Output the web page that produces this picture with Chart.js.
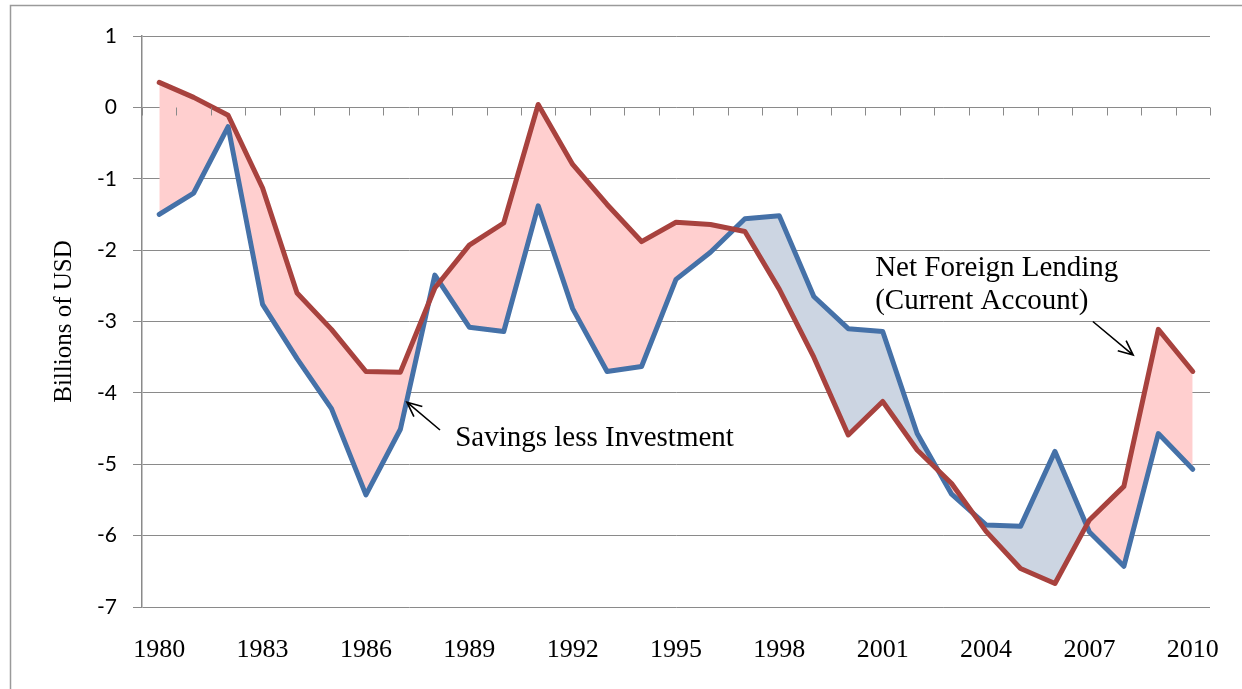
<!DOCTYPE html>
<html>
<head>
<meta charset="utf-8">
<title>Savings less Investment vs Net Foreign Lending</title>
<script src="https://cdn.jsdelivr.net/npm/chart.js@4/dist/chart.umd.min.js"></script>
<style>
    html, body { margin: 0; padding: 0; background: #fff; }
    #wrap { position: relative; width: 1242px; height: 689px; }
</style>
</head>
<body>
<div id="wrap"><canvas id="balanceChart"></canvas></div>
<script>
// Years on the category axis
const years = [1980, 1981, 1982, 1983, 1984, 1985, 1986, 1987, 1988, 1989,
               1990, 1991, 1992, 1993, 1994, 1995, 1996, 1997, 1998, 1999,
               2000, 2001, 2002, 2003, 2004, 2005, 2006, 2007, 2008, 2009, 2010];

// Net foreign lending (current account), billions of USD
const netForeignLending = [0.35, 0.14, -0.11, -1.13, -2.60, -3.11, -3.70, -3.71, -2.53, -1.93,
                           -1.62, 0.04, -0.80, -1.36, -1.88, -1.61, -1.64, -1.74, -2.55, -3.50,
                           -4.59, -4.12, -4.80, -5.27, -5.94, -6.46, -6.67, -5.78, -5.31, -3.11, -3.70];

// Savings less investment, billions of USD
const savingsLessInvestment = [-1.50, -1.20, -0.27, -2.76, -3.52, -4.22, -5.43, -4.51, -2.35, -3.08,
                               -3.14, -1.38, -2.82, -3.70, -3.63, -2.41, -2.03, -1.56, -1.52, -2.65,
                               -3.10, -3.14, -4.57, -5.42, -5.85, -5.87, -4.82, -5.95, -6.43, -4.57, -5.07];

// Only every third year gets a label
const labelEvery = 3;

// Y axis range
const yMin = -7;
const yMax = 1;

const gridColor = '#8a8a8a';

// Text callouts, positioned in data units (category index, value)
const callouts = [
    { lines: ['Savings less Investment'], at: [8.59, -4.64], arrowFrom: [8.15, -4.52], arrowTo: [7.19, -4.13] },
    { lines: ['Net Foreign Lending', '(Current Account)'], at: [20.78, -2.25], arrowFrom: [27.1, -3.0], arrowTo: [28.27, -3.47] }
];

// Draws the outer frame, the category tick marks on the zero line, and the callouts
const decorations = {
    id: 'decorations',
    beforeDraw(chart) {
        const ctx = chart.ctx;
        ctx.save();
        ctx.strokeStyle = '#9a9a9a';
        ctx.lineWidth = 1.5;
        ctx.beginPath();
        ctx.moveTo(10.5, chart.height);
        ctx.lineTo(10.5, 5.5);
        ctx.lineTo(chart.width, 5.5);
        ctx.stroke();
        ctx.restore();
    },
    afterDatasetsDraw(chart) {
        const ctx = chart.ctx;
        const x = chart.scales.x;
        const y = chart.scales.y;
        const zeroY = Math.round(y.getPixelForValue(0)) + 0.5;

        ctx.save();
        ctx.strokeStyle = gridColor;
        ctx.lineWidth = 1;
        ctx.beginPath();
        for (let i = 0; i <= years.length; i++) {
            const px = Math.round(x.getPixelForValue(i - 0.5)) + 0.5;
            ctx.moveTo(px, zeroY);
            ctx.lineTo(px, zeroY + 8);
        }
        ctx.stroke();
        ctx.restore();

        ctx.save();
        ctx.fillStyle = '#000';
        ctx.strokeStyle = '#000';
        ctx.font = '29px "Liberation Serif", "Times New Roman", serif';
        ctx.textBaseline = 'middle';
        ctx.textAlign = 'left';
        callouts.forEach(c => {
            const tx = x.getPixelForValue(c.at[0]);
            const ty = y.getPixelForValue(c.at[1]);
            c.lines.forEach((line, i) => ctx.fillText(line, tx, ty + i * 33));

            const x0 = x.getPixelForValue(c.arrowFrom[0]);
            const y0 = y.getPixelForValue(c.arrowFrom[1]);
            const x1 = x.getPixelForValue(c.arrowTo[0]);
            const y1 = y.getPixelForValue(c.arrowTo[1]);
            const ang = Math.atan2(y1 - y0, x1 - x0);
            const head = 16;
            ctx.lineWidth = 1.6;
            ctx.beginPath();
            ctx.moveTo(x0, y0);
            ctx.lineTo(x1, y1);
            ctx.moveTo(x1 - head * Math.cos(ang - 0.42), y1 - head * Math.sin(ang - 0.42));
            ctx.lineTo(x1, y1);
            ctx.lineTo(x1 - head * Math.cos(ang + 0.42), y1 - head * Math.sin(ang + 0.42));
            ctx.stroke();
        });
        ctx.restore();
    }
};

const ctx = document.getElementById('balanceChart').getContext('2d');
new Chart(ctx, {
    type: 'line',
    data: {
        labels: years.map(String),
        datasets: [
            {
                label: 'Net Foreign Lending (Current Account)',
                data: netForeignLending,
                borderColor: '#A8423E',
                borderWidth: 5,
                borderJoinStyle: 'round',
                borderCapStyle: 'round',
                pointRadius: 0,
                tension: 0,
                fill: {
                    target: 1,
                    above: '#FFCFCF',
                    below: '#CCD5E2'
                }
            },
            {
                label: 'Savings less Investment',
                data: savingsLessInvestment,
                borderColor: '#4571A8',
                borderWidth: 5,
                borderJoinStyle: 'round',
                borderCapStyle: 'round',
                pointRadius: 0,
                tension: 0,
                fill: false
            }
        ]
    },
    options: {
        responsive: true,
        maintainAspectRatio: false,
        animation: false,
        layout: {
            padding: { left: 0, top: 36, right: 32, bottom: 0 }
        },
        plugins: {
            legend: { display: false },
            tooltip: { enabled: false },
            filler: { drawTime: 'beforeDatasetsDraw' }
        },
        scales: {
            x: {
                type: 'category',
                offset: true,
                grid: { display: false, drawTicks: false },
                border: { display: false },
                afterFit(scale) {
                    scale.height = 82;
                    scale.paddingLeft = 0;
                    scale.paddingRight = 0;
                },
                ticks: {
                    autoSkip: false,
                    maxRotation: 0,
                    padding: 28,
                    color: '#000',
                    font: { family: '"Liberation Serif", "Times New Roman", serif', size: 26 },
                    callback(value, index) {
                        return index % labelEvery === 0 ? years[index] : '';
                    }
                }
            },
            y: {
                min: yMin,
                max: yMax,
                afterFit(scale) { scale.width = 142; },
                grid: {
                    color: gridColor,
                    lineWidth: 1,
                    tickLength: 9,
                    drawTicks: true
                },
                border: { display: true, color: gridColor, width: 1.5 },
                ticks: {
                    stepSize: 1,
                    padding: 16,
                    color: '#000',
                    font: { family: 'Lato, "Open Sans", sans-serif', size: 21 }
                },
                title: {
                    display: true,
                    text: 'Billions of USD',
                    color: '#000',
                    padding: { top: 49, bottom: 0 },
                    font: { family: '"Liberation Serif", "Times New Roman", serif', size: 25 }
                }
            }
        }
    },
    plugins: [decorations]
});
</script>
</body>
</html>
